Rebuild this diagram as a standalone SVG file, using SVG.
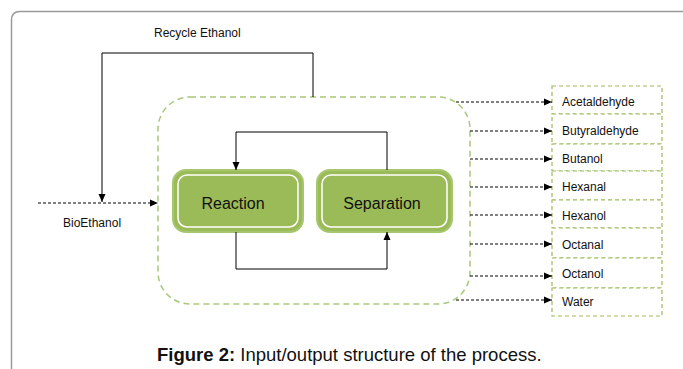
<svg xmlns="http://www.w3.org/2000/svg" width="683" height="369" viewBox="0 0 683 369">
  <defs>
    <marker id="arr" viewBox="0 0 8 8" refX="8" refY="4" markerWidth="8" markerHeight="8" markerUnits="userSpaceOnUse" orient="auto">
      <path d="M0,0.5 L8,4 L0,7.5 Z" fill="#000"/>
    </marker>
    <style>
      .frame { fill: none; stroke: #9a9a9a; stroke-width: 1.5; }
      .lbl { font-family: "Liberation Sans", Arial, sans-serif; font-size: 12px; fill: #111; }
      .out { fill: #fff; stroke: #9bbb59; stroke-width: 1.2; stroke-dasharray: 4 3; }
      .proc { fill: none; stroke: #a9c97a; stroke-width: 1.5; stroke-dasharray: 6 4; }
      .unit { fill: #9bbb59; stroke: #a7c670; stroke-width: 2; }
      .unit-in { fill: none; stroke: #ffffff; stroke-width: 1.5; }
      .unit-t { font-family: "Liberation Sans", Arial, sans-serif; font-size: 16px; fill: #111; text-anchor: middle; }
      .solid { fill: none; stroke: #000; stroke-width: 1; }
      .dash { fill: none; stroke: #000; stroke-width: 1; stroke-dasharray: 3 2; }
      .cap { font-family: "Liberation Sans", Arial, sans-serif; font-size: 18.5px; fill: #111; }
    </style>
  </defs>

  <rect width="683" height="369" fill="#fff"/>
  <path class="frame" d="M11.5,369 V20 Q11.5,11.5 20,11.5 H683"/>

  <!-- process boundary -->
  <g id="process">
    <rect class="proc" x="158" y="97" width="312" height="207" rx="32"/>
  </g>

  <g id="reaction">
    <rect class="unit" x="173" y="170" width="130" height="62" rx="13"/>
    <rect class="unit-in" x="178" y="175" width="120" height="52" rx="9"/>
    <text class="unit-t" x="233" y="209">Reaction</text>
  </g>

  <g id="separation">
    <rect class="unit" x="317" y="170" width="135" height="62" rx="13"/>
    <rect class="unit-in" x="322" y="175" width="125" height="52" rx="9"/>
    <text class="unit-t" x="382" y="209">Separation</text>
  </g>

  <g id="input-labels">
    <text class="lbl" x="154" y="37">Recycle Ethanol</text>
    <text class="lbl" x="63" y="227">BioEthanol</text>
  </g>

  <!-- product boxes -->
  <g id="p-acetaldehyde"><rect class="out" x="552" y="86" width="110" height="28"/><text class="lbl" x="562" y="106">Acetaldehyde</text></g>
  <g id="p-butyraldehyde"><rect class="out" x="552" y="114" width="110" height="30"/><text class="lbl" x="562" y="135">Butyraldehyde</text></g>
  <g id="p-butanol"><rect class="out" x="552" y="144" width="110" height="27"/><text class="lbl" x="562" y="163">Butanol</text></g>
  <g id="p-hexanal"><rect class="out" x="552" y="171" width="110" height="29"/><text class="lbl" x="562" y="191">Hexanal</text></g>
  <g id="p-hexanol"><rect class="out" x="552" y="200" width="110" height="28"/><text class="lbl" x="562" y="220">Hexanol</text></g>
  <g id="p-octanal"><rect class="out" x="552" y="228" width="110" height="30"/><text class="lbl" x="562" y="249">Octanal</text></g>
  <g id="p-octanol"><rect class="out" x="552" y="258" width="110" height="30"/><text class="lbl" x="562" y="278">Octanol</text></g>
  <g id="p-water"><rect class="out" x="552" y="288" width="110" height="28"/><text class="lbl" x="562" y="306">Water</text></g>

  <g id="connectors">
    <!-- recycle loop into feed -->
    <path class="solid" d="M313,97 V53 H102 V202" marker-end="url(#arr)"/>
    <!-- feed -->
    <path class="dash" d="M38,203 H158" marker-end="url(#arr)"/>
    <!-- internal loop -->
    <path class="solid" d="M387,170 V132 H236 V170" marker-end="url(#arr)"/>
    <path class="solid" d="M236,232 V269 H387 V232" marker-end="url(#arr)"/>
    <!-- product streams -->
    <path class="dash" d="M456,102 H552" marker-end="url(#arr)"/>
    <path class="dash" d="M470,131 H552" marker-end="url(#arr)"/>
    <path class="dash" d="M470,159 H552" marker-end="url(#arr)"/>
    <path class="dash" d="M470,187 H552" marker-end="url(#arr)"/>
    <path class="dash" d="M470,215 H552" marker-end="url(#arr)"/>
    <path class="dash" d="M470,244 H552" marker-end="url(#arr)"/>
    <path class="dash" d="M470,276 H552" marker-end="url(#arr)"/>
    <path class="dash" d="M456,300 H552" marker-end="url(#arr)"/>
  </g>

  <text class="cap" x="157" y="361"><tspan font-weight="bold">Figure 2:</tspan> Input/output structure of the process.</text>
</svg>
